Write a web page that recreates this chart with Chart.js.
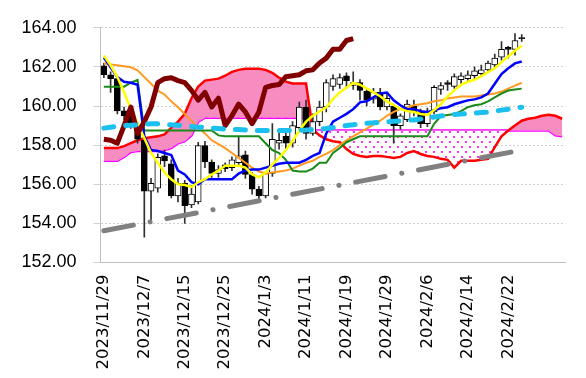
<!DOCTYPE html>
<html>
<head>
<meta charset="utf-8">
<script src="https://cdn.jsdelivr.net/npm/chart.js@4.4.1/dist/chart.umd.min.js"></script>
<style>
    html, body { margin: 0; padding: 0; background: #ffffff; }
    #wrap { width: 586px; height: 378px; }
</style>
</head>
<body>
<div id="wrap"><canvas id="ichimokuChart" width="586" height="378"></canvas></div>
<script>
// Dates of the candles (trading days), future cloud rows have no date
const dates = [
    '2023/11/29', '2023/11/30', '2023/12/1', '2023/12/4', '2023/12/5', '2023/12/6',
    '2023/12/7', '2023/12/8', '2023/12/11', '2023/12/12', '2023/12/13', '2023/12/14',
    '2023/12/15', '2023/12/18', '2023/12/19', '2023/12/20', '2023/12/21', '2023/12/22',
    '2023/12/25', '2023/12/26', '2023/12/27', '2023/12/28', '2023/12/29', '2024/1/2',
    '2024/1/3', '2024/1/4', '2024/1/5', '2024/1/8', '2024/1/9', '2024/1/10',
    '2024/1/11', '2024/1/12', '2024/1/15', '2024/1/16', '2024/1/17', '2024/1/18',
    '2024/1/19', '2024/1/22', '2024/1/23', '2024/1/24', '2024/1/25', '2024/1/26',
    '2024/1/29', '2024/1/30', '2024/1/31', '2024/2/1', '2024/2/2', '2024/2/5',
    '2024/2/6', '2024/2/7', '2024/2/8', '2024/2/9', '2024/2/12', '2024/2/13',
    '2024/2/14', '2024/2/15', '2024/2/16', '2024/2/19', '2024/2/20', '2024/2/21',
    '2024/2/22', '2024/2/23', '2024/2/26',
    '', '', '', '', '', ''
];

// Candles
const opens = [
    162.05, 161.6, 161.4, 159.75, 159.5, 159.0, 158.25, 155.65, 155.8, 157.45,
    157.05, 155.41, 156.05, 154.95, 155.1, 157.98, 157.14, 156.55, 157.0, 156.85,
    157.1, 157.5, 156.5, 155.75, 155.41, 156.55, 158.1, 158.45, 158.1, 158.9,
    159.95, 158.6, 159.2, 159.95, 161.0, 161.1, 161.55, 161.05, 161.2, 160.75,
    160.35, 160.7, 159.95, 160.0, 159.0, 159.3, 160.0, 159.7, 159.1, 159.7,
    160.85, 161.2, 161.0, 161.35, 161.4, 161.55, 161.65, 161.85, 162.1, 162.5,
    163.0, 162.9, 163.5
];
const highs = [
    162.2, 161.75, 161.5, 159.95, 159.65, 159.15, 158.45, 156.3, 157.55, 157.75,
    157.25, 156.3, 156.2, 155.95, 158.15, 158.2, 157.25, 156.95, 157.1, 157.4,
    158.4, 157.7, 156.6, 155.9, 156.65, 159.1, 158.8, 158.6, 159.2, 160.2,
    160.3, 159.6, 160.25, 161.35, 161.6, 161.65, 161.7, 161.75, 161.35, 160.9,
    160.9, 160.9, 160.6, 160.1, 159.6, 160.3, 160.3, 159.85, 159.9, 161.05,
    161.2, 161.3, 161.65, 161.7, 161.8, 162.0, 162.1, 162.3, 162.65, 163.3,
    163.05, 163.7, 163.65
];
const lows = [
    161.45, 160.7, 159.6, 159.3, 158.85, 158.1, 153.3, 154.1, 155.6, 156.9,
    155.3, 155.1, 154.0, 154.8, 155.0, 156.85, 156.35, 156.35, 156.65, 156.7,
    156.95, 156.3, 155.5, 155.25, 155.3, 156.4, 157.8, 157.75, 157.9, 158.7,
    158.3, 158.5, 159.0, 159.7, 160.8, 160.9, 160.9, 160.85, 160.3, 160.0,
    160.15, 159.8, 159.8, 158.1, 158.8, 159.2, 159.5, 158.9, 158.95, 159.6,
    160.6, 160.8, 160.9, 161.15, 161.25, 161.4, 161.5, 161.7, 161.95, 162.35,
    162.45, 162.6, 163.3
];
const closes = [
    161.6, 161.4, 159.75, 159.5, 159.0, 158.3, 155.65, 156.05, 157.38, 157.2,
    155.41, 156.05, 154.91, 155.5, 157.98, 157.14, 156.55, 156.75, 156.8, 157.25,
    157.45, 156.5, 155.75, 155.4, 156.55, 158.3, 158.25, 158.1, 159.0, 159.95,
    158.6, 159.2, 159.95, 161.2, 161.4, 161.45, 161.3, 161.2, 160.8, 160.3,
    160.7, 159.95, 160.4, 159.0, 159.5, 160.1, 159.7, 159.1, 159.7, 160.95,
    161.05, 161.1, 161.5, 161.55, 161.6, 161.8, 161.85, 162.2, 162.45, 162.9,
    162.9, 163.35, 163.45
];

// Short average (yellow)
const maShort = [
    162.58, 162.08, 161.48, 160.7, 159.85, 159.1, 158.35, 157.6, 157.1, 156.6,
    156.26, 156.0, 155.96, 155.86, 156.1, 156.26, 156.5, 156.7, 156.95, 156.95,
    156.95, 156.85, 156.5, 156.36, 156.6, 157.0, 157.35, 157.75, 158.2, 158.75,
    159.2, 159.5, 159.72, 159.94, 160.35, 160.7, 160.94, 161.19, 161.09, 160.9,
    160.7, 160.5, 160.24, 160.05, 159.84, 159.74, 159.69, 159.59, 159.54, 159.8,
    160.09, 160.5, 160.8, 161.09, 161.24, 161.34, 161.53, 161.73, 161.93, 162.23,
    162.53, 162.83, 163.08
];
// Conversion line (blue)
const tenkan = [
    162.48, 161.98, 161.48, 161.24, 161.19, 161.09, 158.45, 157.75, 157.7, 157.6,
    157.5, 156.7, 156.5, 156.11, 156.0, 156.26, 156.26, 156.26, 156.26, 156.26,
    156.55, 156.7, 156.75, 156.75, 156.85, 156.95, 157.05, 157.1, 157.1, 157.1,
    157.25, 157.45, 157.6, 158.6, 159.2, 159.4, 159.6, 159.84, 160.19, 160.24,
    160.44, 160.64, 160.69, 160.29, 160.04, 159.84, 159.84, 159.74, 159.69, 159.79,
    159.89, 159.94, 160.09, 160.19, 160.29, 160.34, 160.44, 160.64, 161.14, 161.63,
    161.93, 162.18, 162.28
];
// Base line (green)
const kijun = [
    160.99, 160.99, 160.99, 160.99, 161.19, 161.34, 158.75, 158.75, 158.75, 158.75,
    158.75, 158.75, 158.75, 158.75, 158.75, 158.75, 158.75, 158.5, 158.45, 158.45,
    158.45, 158.45, 158.45, 158.45, 158.1, 157.75, 157.6, 157.25, 156.7, 156.65,
    156.65, 156.8, 157.1, 157.1, 157.6, 157.85, 158.15, 158.3, 158.45, 158.45,
    158.45, 158.45, 158.45, 158.45, 158.45, 158.45, 158.45, 158.45, 158.45, 159.09,
    159.49, 159.54, 159.59, 159.74, 159.94, 160.04, 160.09, 160.24, 160.44, 160.64,
    160.79, 160.84, 160.89
];
// Medium average (orange)
const maMid = [
    162.18, 162.13, 162.08, 162.03, 161.98, 161.83, 161.48, 161.14, 160.79, 160.59,
    160.24, 159.94, 159.59, 159.24, 158.9, 158.6, 158.25, 158.05, 157.85, 157.6,
    157.35, 157.1, 156.85, 156.65, 156.55, 156.6, 156.65, 156.7, 156.8, 156.95,
    157.1, 157.2, 157.4, 157.55, 157.75, 158.0, 158.25, 158.45, 158.65, 158.85,
    159.05, 159.25, 159.5, 159.7, 159.85, 159.94, 160.04, 160.09, 160.14, 160.24,
    160.29, 160.39, 160.44, 160.49, 160.49, 160.49, 160.54, 160.59, 160.64, 160.74,
    160.89, 161.04, 161.19
];
// Long average (light blue dashed)
const maLong = [
    158.87, 158.92, 158.97, 159.0, 159.02, 159.04, 159.07, 159.09, 159.09, 159.07,
    159.04, 159.02, 158.97, 158.95, 158.92, 158.9, 158.87, 158.85, 158.82, 158.8,
    158.8, 158.77, 158.75, 158.75, 158.75, 158.75, 158.75, 158.75, 158.75, 158.75,
    158.77, 158.8, 158.82, 158.85, 158.9, 158.95, 159.0, 159.04, 159.09, 159.12,
    159.14, 159.17, 159.19, 159.22, 159.24, 159.27, 159.29, 159.34, 159.39, 159.44,
    159.49, 159.54, 159.57, 159.59, 159.62, 159.64, 159.67, 159.69, 159.74, 159.79,
    159.84, 159.89, 159.94
];
// Lagging span (dark red), plotted from the first date
const chikou = [
    158.3, 158.25, 158.1, 159.0, 159.95, 158.6, 159.2, 159.95, 161.2, 161.4,
    161.45, 161.3, 161.2, 160.8, 160.3, 160.7, 159.95, 160.4, 159.0, 159.5,
    160.1, 159.7, 159.1, 159.7, 160.95, 161.05, 161.1, 161.5, 161.55, 161.6,
    161.8, 161.85, 162.2, 162.45, 162.9, 162.9, 163.35, 163.45
];
// Leading span 1 (red) and leading span 2 (magenta)
const spanA = [
    157.85, 157.85, 157.85, 157.95, 158.1, 158.25, 158.35, 158.4, 158.45, 158.55,
    158.9, 159.2, 159.6, 160.4, 161.0, 161.3, 161.35, 161.4, 161.55, 161.75,
    161.85, 161.9, 161.9, 161.9, 161.85, 161.7, 161.45, 161.25, 161.15, 161.15,
    161.15, 158.8, 158.5, 158.3, 158.2, 158.15, 157.8, 157.55, 157.45, 157.4,
    157.45, 157.45, 157.4, 157.35, 157.4, 157.6, 157.7, 157.55, 157.45, 157.4,
    157.3, 157.25, 156.85, 157.2, 157.2, 157.2, 157.25, 157.3, 157.9, 158.45,
    158.75, 159.0, 159.25, 159.35, 159.4, 159.5, 159.55, 159.5, 159.35
];
const spanB = [
    157.2, 157.2, 157.2, 157.4, 157.65, 157.7, 157.7, 157.7, 157.7, 157.75,
    157.85, 158.1, 158.2, 158.5, 159.2, 159.4, 159.4, 159.4, 159.4, 159.4,
    159.4, 159.4, 159.4, 159.4, 159.4, 159.4, 159.4, 159.4, 159.4, 159.4,
    159.4, 158.75, 158.75, 158.75, 158.75, 158.75, 158.75, 158.75, 158.75, 158.75,
    158.75, 158.75, 158.75, 158.75, 158.75, 158.75, 158.75, 158.75, 158.75, 158.75,
    158.75, 158.75, 158.75, 158.75, 158.75, 158.75, 158.75, 158.75, 158.75, 158.75,
    158.75, 158.75, 158.75, 158.75, 158.75, 158.75, 158.75, 158.5, 158.45
];
// Support trend line (grey dash-dot): two anchor points
const trendIndex = [0, 62];
const trendValue = [153.62, 157.75];

// Y axis
const yMin = 152;
const yMax = 164;
const yStep = 2;
const labelEvery = 6;

// dotted fill used where span 2 is above span 1
function makeDotPattern() {
    const c = document.createElement('canvas');
    c.width = 8;
    c.height = 10;
    const g = c.getContext('2d');
    g.fillStyle = '#ffffff';
    g.fillRect(0, 0, 8, 10);
    g.fillStyle = '#ff33ff';
    g.fillRect(1, 1, 2, 2);
    g.fillRect(5, 6, 2, 2);
    return g.createPattern(c, 'repeat');
}

const trendData = dates.map(() => null);
trendIndex.forEach((idx, k) => { trendData[idx] = trendValue[k]; });

const bodyData = opens.map((o, i) => [o, closes[i]]);
const wickData = lows.map((l, i) => [l, highs[i]]);
const bodyColors = opens.map((o, i) => closes[i] >= o ? '#ffffff' : '#000000');

Chart.defaults.font.family = "'Liberation Sans', Arial, sans-serif";
Chart.defaults.color = '#000000';

const lineBase = {
    type: 'line',
    pointRadius: 0,
    pointHoverRadius: 0,
    tension: 0,
    fill: false
};

const ctx = document.getElementById('ichimokuChart').getContext('2d');
new Chart(ctx, {
    type: 'bar',
    data: {
        labels: dates,
        datasets: [
            Object.assign({}, lineBase, {
                label: 'Span 2',
                data: spanB,
                borderColor: '#ff00ff',
                borderWidth: 2.5,
                order: 20
            }),
            Object.assign({}, lineBase, {
                label: 'Span 1',
                data: spanA,
                borderColor: '#ff0000',
                borderWidth: 2.5,
                fill: { target: 0, above: '#f78cc0', below: makeDotPattern() },
                order: 19
            }),
            {
                type: 'bar',
                label: 'Wicks',
                data: wickData,
                backgroundColor: '#303030',
                barThickness: 1,
                grouped: false,
                borderWidth: 0,
                order: 12
            },
            {
                type: 'bar',
                label: 'Bodies',
                data: bodyData,
                backgroundColor: bodyColors,
                borderColor: '#000000',
                borderWidth: 1,
                borderSkipped: false,
                barThickness: 6,
                minBarLength: 1,
                grouped: false,
                order: 11
            },
            Object.assign({}, lineBase, {
                label: 'Trend',
                data: trendData,
                spanGaps: true,
                borderColor: '#808080',
                borderWidth: 5,
                borderCapStyle: 'round',
                borderDash: [30, 17, 0.1, 17],
                order: 10
            }),
            Object.assign({}, lineBase, {
                label: 'Medium MA',
                data: maMid,
                borderColor: '#ff9a22',
                borderWidth: 2,
                order: 8
            }),
            Object.assign({}, lineBase, {
                label: 'Kijun',
                data: kijun,
                borderColor: '#1a8a1a',
                borderWidth: 2,
                order: 7
            }),
            Object.assign({}, lineBase, {
                label: 'Tenkan',
                data: tenkan,
                borderColor: '#0000ff',
                borderWidth: 2.5,
                order: 6
            }),
            Object.assign({}, lineBase, {
                label: 'Short MA',
                data: maShort,
                borderColor: '#ffff00',
                borderWidth: 2.5,
                order: 5
            }),
            Object.assign({}, lineBase, {
                label: 'Chikou',
                data: chikou,
                borderColor: '#800000',
                borderWidth: 5,
                borderJoinStyle: 'round',
                order: 4
            }),
            Object.assign({}, lineBase, {
                label: 'Long MA',
                data: maLong,
                borderColor: '#1cc0ef',
                borderWidth: 5,
                borderCapStyle: 'round',
                borderDash: [10, 12],
                order: 3
            })
        ]
    },
    options: {
        responsive: false,
        devicePixelRatio: 1,
        animation: false,
        events: [],
        layout: { padding: { top: 21, right: 7, left: 0, bottom: 0 } },
        plugins: {
            legend: { display: false },
            tooltip: { enabled: false }
        },
        scales: {
            x: {
                type: 'category',
                offset: true,
                grid: { display: false },
                border: { color: '#bfbfbf', width: 1 },
                ticks: {
                    autoSkip: false,
                    maxRotation: 90,
                    minRotation: 90,
                    padding: 4,
                    color: '#000000',
                    font: { size: 16.5, family: "'DejaVu Sans', sans-serif" },
                    callback: function(value, index) {
                        return index % labelEvery === 0 ? dates[index] : '';
                    }
                },
                afterFit: function(scale) { scale.height = 115.5; }
            },
            y: {
                min: yMin,
                max: yMax,
                grid: {
                    color: '#d0d0d0',
                    tickLength: 7,
                    tickColor: '#d0d0d0'
                },
                border: { color: '#bfbfbf', width: 1, dash: [2, 2] },
                ticks: {
                    stepSize: yStep,
                    padding: 17,
                    color: '#000000',
                    font: { size: 18, family: "'Liberation Sans Narrow', 'Liberation Sans', sans-serif" },
                    callback: function(value) { return value.toFixed(2); }
                },
                afterFit: function(scale) { scale.width = 100.5; }
            }
        }
    }
});
</script>
</body>
</html>
